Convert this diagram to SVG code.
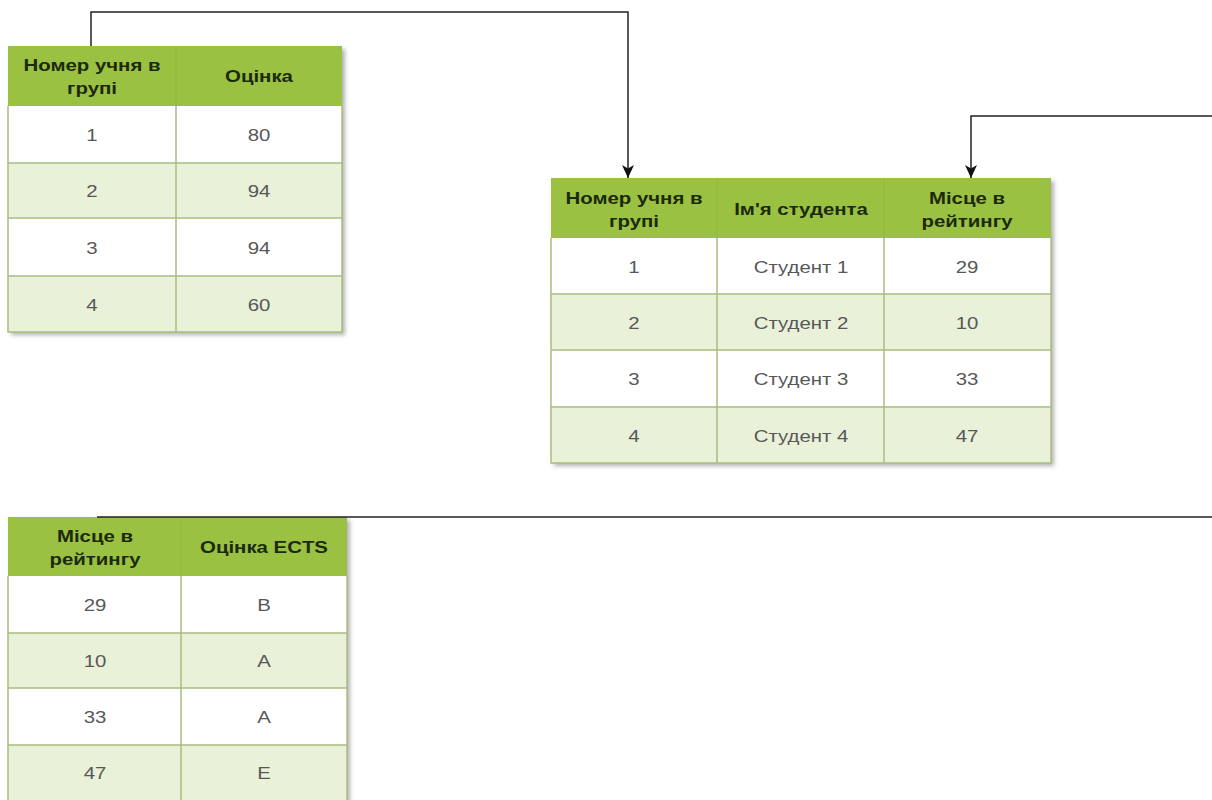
<svg xmlns="http://www.w3.org/2000/svg" width="1212" height="800" viewBox="0 0 1212 800">
<defs>
<filter id="sh" x="-5%" y="-5%" width="115%" height="115%">
<feDropShadow dx="3" dy="3" stdDeviation="2" flood-color="#000" flood-opacity="0.3"/>
</filter>
<marker id="arr" markerWidth="14" markerHeight="14" refX="13" refY="7" orient="auto" markerUnits="userSpaceOnUse">
<path d="M0,1 L13,7 L0,13 L3.5,7 Z" fill="#111"/>
</marker>
<style>
.hd{fill:#9bc142}
.w{fill:#ffffff}
.l{fill:#e9f1d9}
.ln{stroke:#a8bd80;stroke-width:1.5;fill:none}
.ht{font-family:"Liberation Sans",Arial,sans-serif;font-weight:bold;font-size:17px;fill:#1c2a0c;text-anchor:middle}
.bt{font-family:"Liberation Sans",Arial,sans-serif;font-size:17px;fill:#585858;text-anchor:middle}
.cn{stroke:#222;stroke-width:1.5;fill:none}
</style>
</defs>
<rect width="1212" height="800" fill="#fff"/>

<g id="table1">
<g filter="url(#sh)">
<rect x="8" y="46" width="334" height="286" class="w"/>
</g>
<rect x="8" y="46" width="334" height="60" class="hd"/>
<rect x="8" y="106" width="334" height="57" class="w"/>
<rect x="8" y="163" width="334" height="55" class="l"/>
<rect x="8" y="218" width="334" height="58" class="w"/>
<rect x="8" y="276" width="334" height="56" class="l"/>
<path class="ln" d="M176,106 V332 M8,163 H342 M8,218 H342 M8,276 H342 M8,106 V332 H342 V106"/>
<path d="M176,46 V106" stroke="#92b73c" stroke-width="1"/>
<text class="ht" transform="translate(92,71) scale(1.2 1)">Номер учня в</text>
<text class="ht" transform="translate(92,94) scale(1.2 1)">групі</text>
<text class="ht" transform="translate(259,82) scale(1.2 1)">Оцінка</text>
<text class="bt" transform="translate(92,141) scale(1.2 1)">1</text>
<text class="bt" transform="translate(259,141) scale(1.2 1)">80</text>
<text class="bt" transform="translate(92,197) scale(1.2 1)">2</text>
<text class="bt" transform="translate(259,197) scale(1.2 1)">94</text>
<text class="bt" transform="translate(92,254) scale(1.2 1)">3</text>
<text class="bt" transform="translate(259,254) scale(1.2 1)">94</text>
<text class="bt" transform="translate(92,311) scale(1.2 1)">4</text>
<text class="bt" transform="translate(259,311) scale(1.2 1)">60</text>
</g>

<g id="table2">
<g filter="url(#sh)">
<rect x="551" y="178" width="500" height="285" class="w"/>
</g>
<rect x="551" y="178" width="500" height="60" class="hd"/>
<rect x="551" y="238" width="500" height="56" class="w"/>
<rect x="551" y="294" width="500" height="56" class="l"/>
<rect x="551" y="350" width="500" height="57" class="w"/>
<rect x="551" y="407" width="500" height="56" class="l"/>
<path class="ln" d="M717,238 V463 M884,238 V463 M551,294 H1051 M551,350 H1051 M551,407 H1051 M551,238 V463 H1051 V238"/>
<path d="M717,178 V238 M884,178 V238" stroke="#92b73c" stroke-width="1"/>
<text class="ht" transform="translate(634,204) scale(1.2 1)">Номер учня в</text>
<text class="ht" transform="translate(634,227) scale(1.2 1)">групі</text>
<text class="ht" transform="translate(801,215) scale(1.2 1)">Ім'я студента</text>
<text class="ht" transform="translate(967,204) scale(1.2 1)">Місце в</text>
<text class="ht" transform="translate(967,227) scale(1.2 1)">рейтингу</text>
<text class="bt" transform="translate(634,273) scale(1.2 1)">1</text>
<text class="bt" transform="translate(801,273) scale(1.2 1)">Студент 1</text>
<text class="bt" transform="translate(967,273) scale(1.2 1)">29</text>
<text class="bt" transform="translate(634,329) scale(1.2 1)">2</text>
<text class="bt" transform="translate(801,329) scale(1.2 1)">Студент 2</text>
<text class="bt" transform="translate(967,329) scale(1.2 1)">10</text>
<text class="bt" transform="translate(634,385) scale(1.2 1)">3</text>
<text class="bt" transform="translate(801,385) scale(1.2 1)">Студент 3</text>
<text class="bt" transform="translate(967,385) scale(1.2 1)">33</text>
<text class="bt" transform="translate(634,442) scale(1.2 1)">4</text>
<text class="bt" transform="translate(801,442) scale(1.2 1)">Студент 4</text>
<text class="bt" transform="translate(967,442) scale(1.2 1)">47</text>
</g>

<g id="table3">
<g filter="url(#sh)">
<rect x="8" y="517" width="339" height="290" class="w"/>
</g>
<rect x="8" y="517" width="339" height="59" class="hd"/>
<rect x="8" y="576" width="339" height="57" class="w"/>
<rect x="8" y="633" width="339" height="55" class="l"/>
<rect x="8" y="688" width="339" height="57" class="w"/>
<rect x="8" y="745" width="339" height="60" class="l"/>
<path class="ln" d="M181,576 V800 M8,633 H347 M8,688 H347 M8,745 H347 M8,576 V800 M347,576 V800"/>
<path d="M181,517 V576" stroke="#92b73c" stroke-width="1"/>
<text class="ht" transform="translate(95,542) scale(1.2 1)">Місце в</text>
<text class="ht" transform="translate(95,565) scale(1.2 1)">рейтингу</text>
<text class="ht" transform="translate(264,553) scale(1.2 1)">Оцінка ECTS</text>
<text class="bt" transform="translate(95,611) scale(1.2 1)">29</text>
<text class="bt" transform="translate(264,611) scale(1.2 1)">B</text>
<text class="bt" transform="translate(95,667) scale(1.2 1)">10</text>
<text class="bt" transform="translate(264,667) scale(1.2 1)">A</text>
<text class="bt" transform="translate(95,723) scale(1.2 1)">33</text>
<text class="bt" transform="translate(264,723) scale(1.2 1)">A</text>
<text class="bt" transform="translate(95,779) scale(1.2 1)">47</text>
<text class="bt" transform="translate(264,779) scale(1.2 1)">E</text>
</g>

<g id="connectors">
<path class="cn" d="M91,46 V12 H628 V178" marker-end="url(#arr)"/>
<path class="cn" d="M1212,116 H971 V178" marker-end="url(#arr)"/>
<path class="cn" d="M97,517 H1212" stroke="#333"/>
</g>
</svg>
